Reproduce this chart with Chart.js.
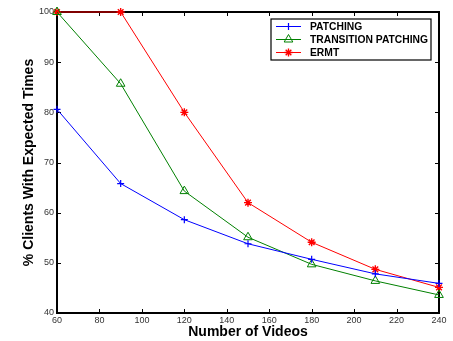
<!DOCTYPE html>
<html>
<head>
<meta charset="utf-8">
<script src="https://cdn.jsdelivr.net/npm/chart.js@4"></script>
<style>
  html, body { margin: 0; padding: 0; background: #fff; }
  #wrap { width: 453px; height: 341px; }
</style>
</head>
<body>
<div id="wrap"><canvas id="c" width="453" height="341"></canvas></div>
<script>
// Number of videos on the x axis
const videos = [60, 90, 120, 150, 180, 210, 240];

// % of clients served within expected times
const patching = [80.6, 65.8, 58.6, 53.8, 50.7, 47.8, 45.9];
const transitionPatching = [100, 85.7, 64.3, 55.1, 49.7, 46.4, 43.6];
const ermt = [100, 100, 80.0, 62.0, 54.1, 48.7, 45.1];

const seriesNames = ['PATCHING', 'TRANSITION PATCHING', 'ERMT'];

const xTicks = [60, 80, 100, 120, 140, 160, 180, 200, 220, 240];
const yTicks = [40, 50, 60, 70, 80, 90, 100];

const FONT = '"Liberation Sans", Arial, Helvetica, sans-serif';

function toPoints(values) {
  return videos.map((v, i) => ({ x: v, y: values[i] }));
}

// Frame with inward tick marks on all four sides
const framePlugin = {
  id: 'frame',
  beforeDatasetsDraw(chart) {
    const { ctx, chartArea: a, scales } = chart;
    ctx.save();
    ctx.strokeStyle = '#000';
    ctx.lineWidth = 1;
    const tl = 4;
    ctx.beginPath();
    xTicks.forEach(v => {
      const px = Math.round(scales.x.getPixelForValue(v)) + 0.5;
      ctx.moveTo(px, a.bottom); ctx.lineTo(px, a.bottom - tl);
      ctx.moveTo(px, a.top); ctx.lineTo(px, a.top + tl);
    });
    yTicks.forEach(v => {
      const py = Math.round(scales.y.getPixelForValue(v)) + 0.5;
      ctx.moveTo(a.left, py); ctx.lineTo(a.left + tl, py);
      ctx.moveTo(a.right, py); ctx.lineTo(a.right - tl, py);
    });
    ctx.stroke();
    ctx.lineWidth = 2;
    ctx.strokeRect(a.left, a.top, a.right - a.left, a.bottom - a.top);
    ctx.restore();
  }
};

// Boxed legend in the upper right of the plot
const legendBoxPlugin = {
  id: 'legendBox',
  afterDraw(chart) {
    const { ctx } = chart;
    const x0 = 271, y0 = 19, w = 160, h = 41;
    ctx.save();
    ctx.fillStyle = '#fff';
    ctx.fillRect(x0, y0, w, h);
    ctx.strokeStyle = '#000';
    ctx.lineWidth = 1.2;
    ctx.strokeRect(x0, y0, w, h);
    const rows = [26.5, 39.5, 52.5];
    chart.data.datasets.forEach((ds, i) => {
      const y = rows[i];
      ctx.strokeStyle = ds.borderColor;
      ctx.fillStyle = 'rgba(0,0,0,0)';
      ctx.lineWidth = 1;
      ctx.beginPath();
      ctx.moveTo(276, y); ctx.lineTo(301, y);
      ctx.stroke();
      ctx.lineWidth = ds.pointBorderWidth;
      Chart.helpers.drawPoint(ctx, {
        pointStyle: ds.pointStyle,
        radius: ds.pointRadius,
        borderWidth: ds.pointBorderWidth
      }, 288.5, y);
      ctx.fillStyle = '#000';
      ctx.font = 'bold 10.3px ' + FONT;
      ctx.textBaseline = 'middle';
      ctx.textAlign = 'left';
      ctx.fillText(ds.label, 310, y + 0.5);
    });
    ctx.restore();
  }
};

new Chart(document.getElementById('c'), {
  type: 'line',
  data: {
    datasets: [
      {
        label: seriesNames[0],
        data: toPoints(patching),
        borderColor: '#0000ff',
        backgroundColor: 'rgba(0,0,0,0)',
        borderWidth: 1,
        pointStyle: 'cross',
        pointRadius: 3.5,
        pointBorderWidth: 1.2,
        pointBorderColor: '#0000ff',
        clip: false
      },
      {
        label: seriesNames[1],
        data: toPoints(transitionPatching),
        borderColor: '#008000',
        backgroundColor: 'rgba(0,0,0,0)',
        borderWidth: 1,
        pointStyle: 'triangle',
        pointRadius: 5,
        pointBorderWidth: 1,
        pointBorderColor: '#008000',
        pointBackgroundColor: 'rgba(0,0,0,0)',
        clip: false
      },
      {
        label: seriesNames[2],
        data: toPoints(ermt),
        borderColor: '#ff0000',
        backgroundColor: 'rgba(0,0,0,0)',
        borderWidth: 1,
        pointStyle: 'star',
        pointRadius: 4,
        pointBorderWidth: 1.4,
        pointBorderColor: '#ff0000',
        clip: false
      }
    ]
  },
  options: {
    responsive: false,
    animation: false,
    layout: { padding: { left: 0, top: 12, right: 14, bottom: 0 } },
    plugins: { legend: { display: false }, tooltip: { enabled: false } },
    scales: {
      x: {
        type: 'linear',
        min: 60, max: 240,
        afterBuildTicks(scale) { scale.ticks = xTicks.map(v => ({ value: v })); },
        afterFit(scale) { scale.height = 28; },
        grid: { display: false, drawTicks: false },
        border: { display: false },
        ticks: { color: '#333', padding: 2, maxRotation: 0, font: { family: FONT, size: 9 } },
        title: {
          display: true, text: 'Number of Videos', color: '#000',
          padding: { top: 0, bottom: 0 },
          font: { family: FONT, size: 14, weight: 'bold' }
        }
      },
      y: {
        type: 'linear',
        min: 40, max: 100,
        afterBuildTicks(scale) { scale.ticks = yTicks.map(v => ({ value: v })); },
        afterFit(scale) { scale.width = 57; },
        grid: { display: false, drawTicks: false },
        border: { display: false },
        ticks: { color: '#333', padding: 3, font: { family: FONT, size: 9 } },
        title: {
          display: true, text: '% Clients With Expected Times', color: '#000',
          padding: { top: 21, bottom: 0 },
          font: { family: FONT, size: 14, weight: 'bold' }
        }
      }
    }
  },
  plugins: [framePlugin, legendBoxPlugin]
});
</script>
</body>
</html>
